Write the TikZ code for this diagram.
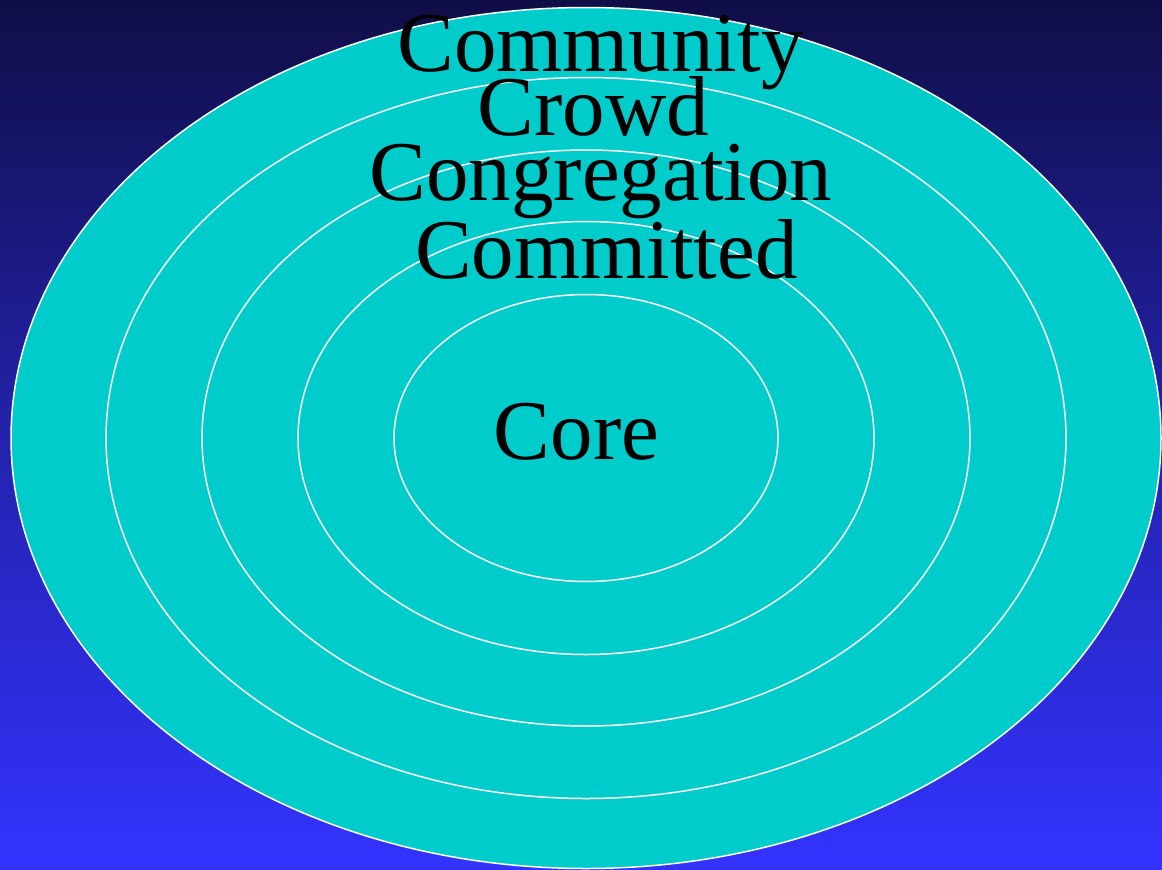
\documentclass[tikz,border=0pt]{standalone}
\usepackage{fontspec}
\setmainfont{Liberation Serif}
\definecolor{bgtop}{HTML}{100E46}
\definecolor{bgbot}{HTML}{3333FF}
\definecolor{ring}{HTML}{00CCCC}
\tikzset{
  ringstyle/.style={fill=ring, draw=white, line width=1.5pt},
  lbl/.style={anchor=base, inner sep=0pt, font=\fontsize{85}{85}\selectfont, text=black}
}
\begin{document}
\begin{tikzpicture}[x=1pt,y=-1pt]
\useasboundingbox (0,0) rectangle (1162,870);
\shade[top color=bgtop, bottom color=bgbot, middle color=bgtop!45!bgbot] (0,0) rectangle (1162,870);
\coordinate (c) at (586,438);
\draw[ringstyle] (c) ellipse [x radius=575pt, y radius=430.5pt];
\draw[ringstyle] (c) ellipse [x radius=480pt, y radius=360.5pt];
\draw[ringstyle] (c) ellipse [x radius=384pt, y radius=288pt];
\draw[ringstyle] (c) ellipse [x radius=288pt, y radius=216.5pt];
\draw[ringstyle] (c) ellipse [x radius=192pt, y radius=143.5pt];
\node[lbl] (community) at (600.5,71) {Community};
\node[lbl] (crowd) at (593.5,135) {Crowd};
\node[lbl] (congregation) at (601,200) {Congregation};
\node[lbl] (committed) at (606.5,278) {Committed};
\node[lbl] (core) at (576.5,459) {Core};
\end{tikzpicture}
\end{document}
